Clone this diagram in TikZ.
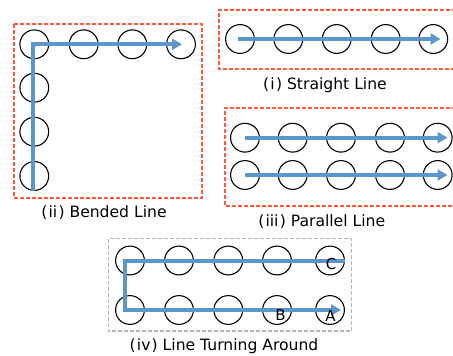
\documentclass[tikz,border=0pt]{standalone}
\usepackage{fontspec}
\setmainfont{DejaVu Sans}
\usetikzlibrary{arrows.meta}
\definecolor{redd}{RGB}{255,90,60}
\definecolor{grayd}{RGB}{180,180,180}
\definecolor{blueline}{RGB}{91,150,205}
\newcommand{\pl}{(\kern1.2pt}
\newcommand{\pr}{\kern1.2pt)}
\tikzset{
  cell/.style={circle,draw=black,line width=1.1pt,minimum size=28.8pt,inner sep=0pt},
  rbox/.style={draw=redd,dash pattern=on 4pt off 2pt,line width=1.7pt},
  gbox/.style={draw=grayd,dash pattern=on 4pt off 2pt,line width=1.6pt},
  flow/.style={draw=blueline,line width=4pt,-{Triangle[length=10pt,width=11pt]}},
  captext/.style={font=\fontsize{15.6pt}{17pt}\selectfont,inner sep=0pt},
  lett/.style={font=\fontsize{15pt}{16pt}\selectfont,inner sep=0pt}
}
\begin{document}
\begin{tikzpicture}[x=1pt,y=-1pt]
\useasboundingbox (0,0) rectangle (453,356);
% (ii) Bended Line
\coordinate (r2a) at (14,24);
\coordinate (r2b) at (202,24);
\coordinate (r2c) at (202,198);
\coordinate (r2d) at (14,198);
\draw[rbox] (r2a) -- (r2b) -- (r2c) -- (r2d) -- cycle;
\foreach \i/\x in {1/34.3,2/83.7,3/132.3,4/181}
  \node[cell] (b\i) at (\x,44.3) {};
\foreach \i/\y in {2/87.7,3/131.7,4/176}
  \node[cell] (bv\i) at (34.3,\y) {};
\coordinate (bs) at (32.5,191);
\coordinate (bc) at (32.5,44.3);
\coordinate (be) at (182,44.3);
\draw[flow] (bs) -- (bc) -- (be);
\node[captext] (capii) at (104,213) {\pl ii\pr\ Bended Line};
% (i) Straight Line
\coordinate (r1a) at (219,10);
\coordinate (r1b) at (456,10);
\coordinate (r1c) at (456,69);
\coordinate (r1d) at (219,69);
\draw[rbox] (r1b) -- (r1a) -- (r1d) -- (r1c);
\foreach \i/\x in {1/240,2/288.3,3/336.7,4/385.7,5/433.3}
  \node[cell] (s\i) at (\x,39) {};
\coordinate (ss) at (237.5,39);
\coordinate (se) at (440.5,39);
\draw[flow] (ss) -- (se);
\node[captext] (capi) at (325,85) {\pl i\pr\ Straight Line};
% (iii) Parallel Line
\coordinate (r3a) at (225,108);
\coordinate (r3b) at (456,108);
\coordinate (r3c) at (456,206);
\coordinate (r3d) at (225,206);
\draw[rbox] (r3b) -- (r3a) -- (r3d) -- (r3c);
\foreach \i/\x in {1/245,2/292.7,3/341,4/390,5/437.7}{
  \node[cell] (pa\i) at (\x,137.7) {};
  \node[cell] (pb\i) at (\x,175) {};
}
\coordinate (pas) at (245,137.7);
\coordinate (pae) at (447.5,137.7);
\coordinate (pbs) at (245,175);
\coordinate (pbe) at (447.5,175);
\draw[flow] (pas) -- (pae);
\draw[flow] (pbs) -- (pbe);
\node[captext] (capiii) at (321.7,221.7) {\pl iii\pr\ Parallel Line};
% (iv) Line Turning Around
\draw[gbox] (108.5,238.5) rectangle (351.5,331);
\foreach \i/\x in {1/130,2/179,3/228.3,4/277,5/330}{
  \node[cell] (ta\i) at (\x,260.5) {};
  \node[cell] (tb\i) at (\x,310) {};
}
\coordinate (ts) at (345,260.5);
\coordinate (tc1) at (125,260.5);
\coordinate (tc2) at (125,310);
\coordinate (te) at (341,310);
\draw[flow] (ts) -- (tc1) -- (tc2) -- (te);
\node[lett] (lc) at (331,264) {C};
\node[lett] (lb) at (280.5,315.5) {B};
\node[lett] (la) at (330.5,316) {A};
\node[captext] (capiv) at (224,346) {\pl iv\pr\ Line Turning Around};
\end{tikzpicture}
\end{document}
